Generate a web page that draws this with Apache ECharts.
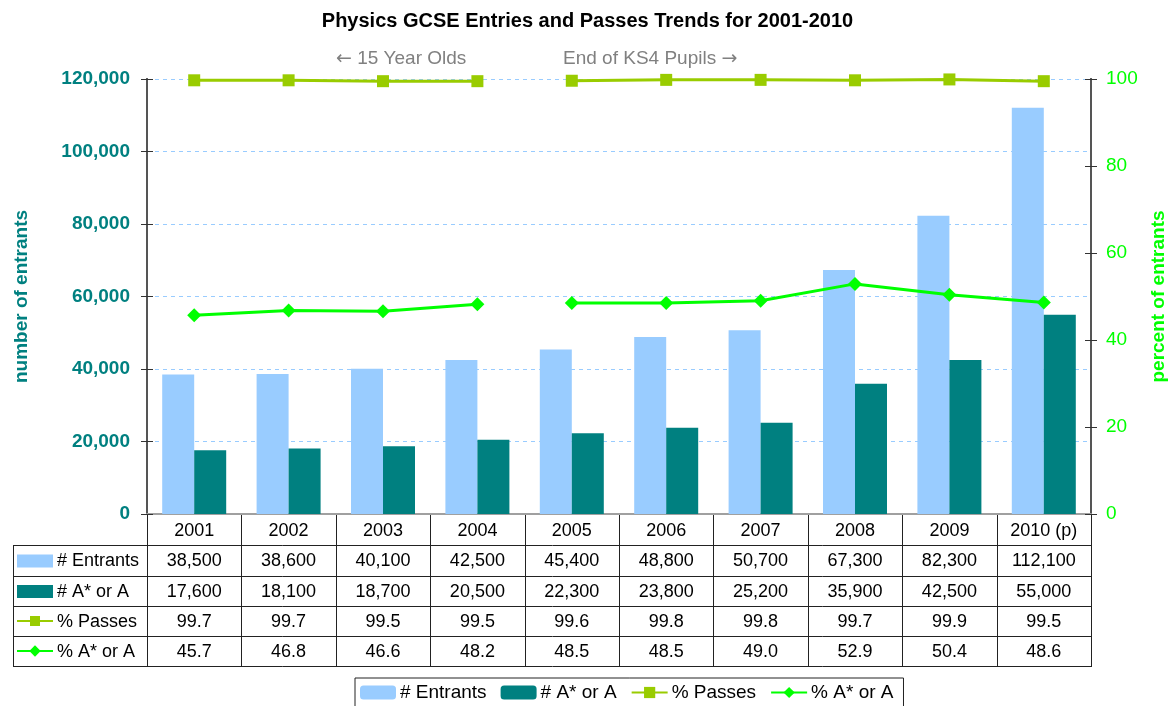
<!DOCTYPE html>
<html>
<head>
<meta charset="utf-8">
<script src="https://cdn.jsdelivr.net/npm/echarts@6/dist/echarts.min.js"></script>
<style>
html, body { margin: 0; padding: 0; background: #fff; }
#chart { width: 1175px; height: 706px; }
</style>
</head>
<body>
<div id="chart"></div>
<script>
// values
var years = ['2001', '2002', '2003', '2004', '2005', '2006', '2007', '2008', '2009', '2010 (p)'];
var entrants = [38500, 38600, 40100, 42500, 45400, 48800, 50700, 67300, 82300, 112100];
var topGrades = [17600, 18100, 18700, 20500, 22300, 23800, 25200, 35900, 42500, 55000];
var passPct = [99.7, 99.7, 99.5, 99.5, 99.6, 99.8, 99.8, 99.7, 99.9, 99.5];
var topPct = [45.7, 46.8, 46.6, 48.2, 48.5, 48.5, 49.0, 52.9, 50.4, 48.6];
var countTicks = [0, 120000, 20000];   // min, max, interval
var pctTicks = [0, 100, 20];
var lastAge15 = 3; // index of 2004: lines break after the 15 year olds

var FONT = 'Liberation Sans, Arial, sans-serif';
var TEAL = '#008080';
var LIGHT = '#99CCFF';
var OLIVE = '#99CC00';
var LIME = '#00FF00';

// plot box
var GL = 147, GR = 1091, GT = 79, GB = 514;
var colW = (GR - GL) / years.length;
var rowY = [514, 545, 576, 606, 636, 666];
var tableLeft = 13;

function fmt(n) { return n.toLocaleString('en-US'); }
function part(arr, first) {
    return arr.map(function (v, i) { return (first ? i <= lastAge15 : i > lastAge15) ? v : '-'; });
}

var chart = echarts.init(document.getElementById('chart'));

// data table under the plot
var graphics = [];
function hline(x1, x2, y) {
    graphics.push({ type: 'line', silent: true, shape: { x1: x1, y1: y + 0.5, x2: x2, y2: y + 0.5 },
        style: { stroke: '#222', lineWidth: 1 } });
}
function vline(x, y1, y2) {
    graphics.push({ type: 'line', silent: true, shape: { x1: x + 0.5, y1: y1, x2: x + 0.5, y2: y2 },
        style: { stroke: '#222', lineWidth: 1 } });
}
function label(text, x, y, align, color, size, rich) {
    graphics.push({ type: 'text', silent: true,
        style: { text: text, x: x, y: y, align: align, verticalAlign: 'middle', rich: rich,
            fill: color || '#000', fontSize: size || 18, fontFamily: FONT } });
}

for (var r = 1; r < rowY.length; r++) hline(tableLeft, GR + 1, rowY[r]);
vline(tableLeft, rowY[1], rowY[5] + 1);
for (var c = 0; c <= years.length; c++) vline(Math.round(GL + c * colW), rowY[0], rowY[5] + 1);

var rows = [
    { name: '# Entrants', vals: entrants.map(fmt), kind: 'bar', color: LIGHT },
    { name: '# A* or A', vals: topGrades.map(fmt), kind: 'bar', color: TEAL },
    { name: '% Passes', vals: passPct.map(function (v) { return v.toFixed(1); }), kind: 'rect', color: OLIVE },
    { name: '% A* or A', vals: topPct.map(function (v) { return v.toFixed(1); }), kind: 'diamond', color: LIME }
];
rows.forEach(function (row, k) {
    var cy = (rowY[k + 1] + rowY[k + 2]) / 2;
    if (row.kind === 'bar') {
        graphics.push({ type: 'rect', silent: true, shape: { x: 17, y: cy - 6, width: 36, height: 13 },
            style: { fill: row.color } });
    } else {
        graphics.push({ type: 'line', silent: true, shape: { x1: 17, y1: cy, x2: 53, y2: cy },
            style: { stroke: row.color, lineWidth: 2 } });
        if (row.kind === 'rect') {
            graphics.push({ type: 'rect', silent: true, shape: { x: 30, y: cy - 5, width: 10, height: 10 },
                style: { fill: row.color } });
        } else {
            graphics.push({ type: 'rect', silent: true, shape: { x: 31, y: cy - 4, width: 8, height: 8 },
                rotation: Math.PI / 4, originX: 35, originY: cy, style: { fill: row.color } });
        }
    }
    label(row.name, 57, cy + 1, 'left');
    row.vals.forEach(function (v, i) {
        label(v, GL + (i + 0.5) * colW, cy + 1, 'center');
    });
});

// notes above the plot
var arrowStyle = { a: { fontSize: 19, fontFamily: 'DejaVu Sans', fill: '#808080' } };
label('{a|\u2190} 15 Year Olds', 336, 59, 'left', '#808080', 19, arrowStyle);
label('End of KS4 Pupils {a|\u2192}', 563, 59, 'left', '#808080', 19, arrowStyle);

function innerAxis(pos, t) {
    return {
        type: 'value',
        position: pos,
        min: t[0], max: t[1], interval: t[2],
        axisLine: { show: true, lineStyle: { color: '#555', width: 2 } },
        axisTick: { show: true, inside: true, length: 6, lineStyle: { color: '#333' } },
        axisLabel: { show: false },
        splitLine: { show: false }
    };
}

chart.setOption({
    animation: false,
    title: {
        text: 'Physics GCSE Entries and Passes Trends for 2001-2010',
        left: 'center',
        top: 6,
        textStyle: { fontSize: 20, fontWeight: 'bold', color: '#000', fontFamily: FONT }
    },
    legend: {
        left: 355,
        top: 678,
        itemWidth: 36,
        itemHeight: 14,
        itemGap: 14,
        padding: [5, 10, 6, 5],
        borderColor: '#222',
        borderWidth: 1,
        textStyle: { fontSize: 19, color: '#000', fontFamily: FONT, padding: [0, 0, 0, -1] },
        data: ['# Entrants', '# A* or A', '% Passes', '% A* or A']
    },
    grid: {
        left: GL,
        right: 1175 - GR,
        top: GT,
        bottom: 706 - GB,
        containLabel: false,
        outerBoundsMode: 'none'
    },
    xAxis: [
        {
            type: 'category',
            data: years,
            axisLine: { lineStyle: { color: '#222' } },
            axisTick: { show: false },
            axisLabel: { fontSize: 18, color: '#000', fontFamily: FONT, margin: 8 }
        },
        {
            type: 'category',
            position: 'top',
            data: years,
            axisLine: { lineStyle: { color: '#A0A0A0', width: 2 } },
            axisTick: { show: false },
            axisLabel: { show: false }
        }
    ],
    yAxis: [
        {
            type: 'value',
            position: 'left',
            min: countTicks[0], max: countTicks[1], interval: countTicks[2],
            name: 'number of entrants',
            nameLocation: 'middle',
            nameRotate: 90,
            nameGap: 116,
            nameTextStyle: { fontSize: 19, fontWeight: 'bold', color: TEAL, fontFamily: FONT },
            axisLine: { show: true, lineStyle: { color: '#555', width: 2 } },
            axisTick: { show: true, length: 6, lineStyle: { color: '#333' } },
            axisLabel: { color: TEAL, fontSize: 19, fontWeight: 'bold', fontFamily: FONT, margin: 17,
                formatter: function (v) { return fmt(v); } },
            splitLine: { show: true, lineStyle: { color: LIGHT, type: [4, 4] } }
        },
        {
            type: 'value',
            position: 'right',
            min: pctTicks[0], max: pctTicks[1], interval: pctTicks[2],
            name: 'percent of entrants',
            nameLocation: 'middle',
            nameRotate: 90,
            nameGap: 58,
            nameTextStyle: { fontSize: 19, fontWeight: 'bold', color: LIME, fontFamily: FONT },
            axisLine: { show: true, lineStyle: { color: '#555', width: 2 } },
            axisTick: { show: true, length: 6, lineStyle: { color: '#333' } },
            axisLabel: { color: LIME, fontSize: 19, fontFamily: FONT, margin: 15 },
            splitLine: { show: false }
        },
        innerAxis('left', countTicks),
        innerAxis('right', pctTicks)
    ],
    series: [
        {
            name: '# Entrants', type: 'bar', data: entrants,
            barWidth: 32, barGap: '0%',
            itemStyle: { color: LIGHT }
        },
        {
            name: '# A* or A', type: 'bar', data: topGrades,
            barWidth: 32, barGap: '0%',
            itemStyle: { color: TEAL }
        },
        {
            name: '% Passes', type: 'line', yAxisIndex: 1, data: part(passPct, true),
            symbol: 'rect', symbolSize: 12, color: OLIVE,
            lineStyle: { width: 3, color: OLIVE }, z: 5
        },
        {
            name: '% Passes', type: 'line', yAxisIndex: 1, data: part(passPct, false),
            symbol: 'rect', symbolSize: 12, color: OLIVE,
            lineStyle: { width: 3, color: OLIVE }, z: 5
        },
        {
            name: '% A* or A', type: 'line', yAxisIndex: 1, data: part(topPct, true),
            symbol: 'diamond', symbolSize: 14, color: LIME,
            lineStyle: { width: 3, color: LIME }, z: 5
        },
        {
            name: '% A* or A', type: 'line', yAxisIndex: 1, data: part(topPct, false),
            symbol: 'diamond', symbolSize: 14, color: LIME,
            lineStyle: { width: 3, color: LIME }, z: 5
        }
    ],
    graphic: graphics
});
</script>
</body>
</html>
